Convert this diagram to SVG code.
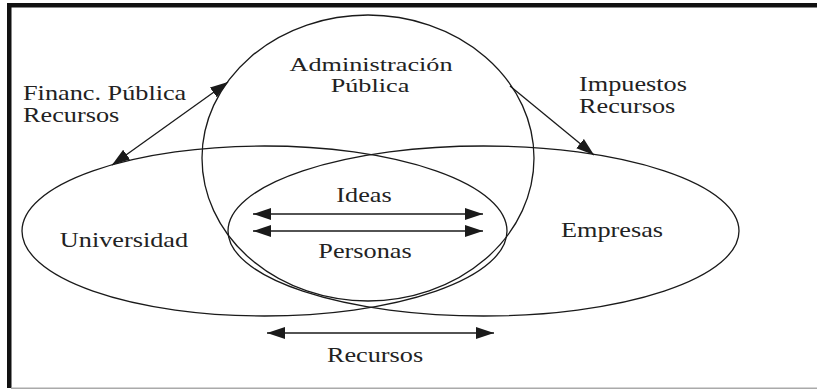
<svg xmlns="http://www.w3.org/2000/svg" width="817" height="390" viewBox="0 0 817 390">
<style>
.shape{fill:none;stroke:#1a1a1a;stroke-width:1.3}
.con{fill:none;stroke:#1a1a1a;stroke-width:1.3}
text{font-family:'Liberation Serif','Times New Roman',serif;font-size:21px;fill:#222}
.mid{text-anchor:middle}
.sm{font-size:19px}
</style>
<defs>
<marker id="ah" markerUnits="userSpaceOnUse" markerWidth="19" markerHeight="13" refX="18" refY="6.5" orient="auto-start-reverse" viewBox="0 0 19 13">
<path d="M0,0.5 L18,6.5 L0,12.5 z" fill="#1a1a1a"/>
</marker>
</defs>
<rect x="0" y="0" width="817" height="390" fill="#fff"/>
<g id="frame">
<rect x="7" y="3" width="810" height="4.5" fill="#111"/>
<rect x="7" y="3" width="4.5" height="385" fill="#111"/>
<line x1="11" y1="388.3" x2="817" y2="388.3" stroke="#aaa" stroke-width="1.5"/>
</g>
<g id="administracion">
<ellipse class="shape" cx="368" cy="158" rx="166" ry="143"/>
<text class="mid sm" transform="translate(371,71) scale(1.38,1)">Administración</text>
<text class="mid sm" transform="translate(370,92) scale(1.38,1)">Pública</text>
</g>
<g id="universidad">
<ellipse class="shape" cx="264.5" cy="231" rx="242.5" ry="85"/>
<text class="mid" transform="translate(124,247) scale(1.25,1)">Universidad</text>
</g>
<g id="empresas">
<ellipse class="shape" cx="483.5" cy="231" rx="255.5" ry="85"/>
<text class="mid" transform="translate(612,237) scale(1.25,1)">Empresas</text>
</g>
<g id="connectors">
<line class="con" x1="112" y1="165" x2="228" y2="82" marker-start="url(#ah)" marker-end="url(#ah)"/>
<line class="con" x1="510" y1="86" x2="594" y2="155" marker-end="url(#ah)"/>
<line class="con" x1="253" y1="214" x2="483" y2="214" marker-start="url(#ah)" marker-end="url(#ah)"/>
<line class="con" x1="253" y1="231" x2="483" y2="231" marker-start="url(#ah)" marker-end="url(#ah)"/>
<line class="con" x1="267" y1="333" x2="494" y2="333" marker-start="url(#ah)" marker-end="url(#ah)"/>
</g>
<g id="labels">
<text transform="translate(23,100) scale(1.25,1)">Financ. Pública</text>
<text transform="translate(23,122) scale(1.25,1)">Recursos</text>
<text transform="translate(579,91) scale(1.25,1)">Impuestos</text>
<text transform="translate(579,113) scale(1.25,1)">Recursos</text>
<text class="mid" transform="translate(364,202) scale(1.25,1)">Ideas</text>
<text class="mid" transform="translate(365,258) scale(1.25,1)">Personas</text>
<text class="mid" transform="translate(375,362) scale(1.25,1)">Recursos</text>
</g>
</svg>
